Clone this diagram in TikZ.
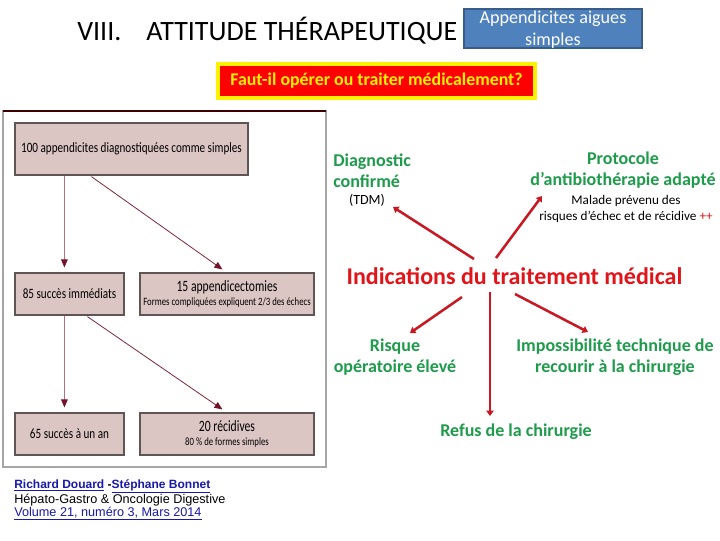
\documentclass[tikz,border=0pt]{standalone}
\usepackage{fontspec}
\usepackage{graphicx}
\setmainfont{Carlito}
\newfontfamily\tah{Liberation Sans}
\usetikzlibrary{arrows.meta,calc}
\definecolor{bluefill}{RGB}{79,129,189}
\definecolor{blueline}{RGB}{56,93,138}
\definecolor{grn}{RGB}{30,155,75}
\definecolor{redtxt}{RGB}{225,20,25}
\definecolor{redarr}{RGB}{200,25,35}
\definecolor{pbox}{RGB}{220,198,195}
\definecolor{pline}{RGB}{95,85,85}
\definecolor{thinarr}{RGB}{175,115,125}
\definecolor{thinhead}{RGB}{115,20,40}
\definecolor{citeblue}{RGB}{25,25,170}
\newdimen\px \px=0.75pt
\newcommand{\cnd}[1]{\scalebox{0.78}[1]{#1}}
\newcommand{\cndb}[1]{\scalebox{0.74}[1]{#1}}
\tikzset{
  pbx/.style={draw=pline, fill=pbox, line width=0.9pt, inner sep=0pt, align=center, font=\fontsize{10.7pt}{12pt}\selectfont},
  thin/.style={draw=thinarr, line width=0.6pt, -{Triangle[length=6pt,width=5pt,color=thinhead]}},
  thinb/.style={draw=thinhead!80!thinarr, line width=0.6pt, -{Triangle[length=6pt,width=5pt,color=thinhead]}},
  rarr/.style={draw=redarr, line width=1.9pt, -{Triangle[length=4pt,width=5.5pt]}},
  gtxt/.style={text=grn, font=\fontsize{13.5pt}{15.75pt}\selectfont\bfseries, align=center, inner sep=0pt},
  smtxt/.style={font=\fontsize{9.9pt}{12pt}\selectfont, align=center, inner sep=0pt},
  cite/.style={font=\tah\fontsize{9.5pt}{10pt}\selectfont, anchor=base west, inner sep=0pt}
}
\begin{document}
\begin{tikzpicture}[x=0.75pt,y=-0.75pt]
\useasboundingbox[fill=white] (0,0) rectangle (720,540);
% title
\node[anchor=base west, inner sep=0pt, font=\fontsize{21pt}{22pt}\selectfont] (t1) at (77,40) {VIII.};
\node[anchor=base west, inner sep=0pt, font=\fontsize{21pt}{22pt}\selectfont] (t2) at (146,40) {ATTITUDE THÉRAPEUTIQUE};
% blue box
\node[draw=blueline, fill=bluefill, line width=1.2pt, minimum width=178\px, minimum height=39\px, inner sep=0pt,
      text=white, align=center, font=\fontsize{13.6pt}{16.5pt}\selectfont] (blue) at (553,28.5) {};
\node[inner sep=0pt, text=white, align=center, font=\fontsize{13.6pt}{16.5pt}\selectfont] (bluetxt) at (blue.center) [yshift=-1.2pt] {Appendicites aigues\\simples};
% red box
\node[draw=yellow, fill=red, line width=2.6pt, minimum width=317\px, minimum height=34\px, inner sep=0pt,
      text=yellow, font=\fontsize{13.4pt}{15pt}\selectfont\bfseries] (q) at (376.5,81) {Faut-il opérer ou traiter médicalement?};
% panel
\draw[draw=black!35, line width=0.8pt] (3,111) rectangle (326,467);
\draw[draw=black!60!red!60!black, line width=1pt] (3,111) -- (326,111);
\node[pbx, minimum width=233\px, minimum height=52\px] (b1) at (131.5,149) {\cnd{100 appendicites diagnostiquées comme simples}};
\node[pbx, minimum width=109\px, minimum height=42\px] (b85) at (69.5,294) {\cnd{85 succès immédiats}};
\node[pbx, minimum width=174\px, minimum height=42\px] (b15) at (227,294) {\cndb{\fontsize{11.8pt}{12pt}\selectfont 15 appendicectomies}\\[-2pt]\cnd{\fontsize{8.4pt}{9pt}\selectfont Formes compliquées expliquent 2/3 des échecs}};
\node[pbx, minimum width=109\px, minimum height=42\px] (b65) at (69.5,434) {\cnd{65 succès à un an}};
\node[pbx, minimum width=174\px, minimum height=42\px] (b20) at (227,434) {\cndb{\fontsize{11.8pt}{12pt}\selectfont 20 récidives}\\[-2pt]\cnd{\fontsize{8.4pt}{9pt}\selectfont 80 \% de formes simples}};
\draw[thin] ($(b1.south west)+(50,0)$) -- ($(b85.north west)+(50,-5)$);
\draw[thinb] ($(b1.south west)+(77,1)$) -- ($(b15.north west)+(83,-3)$);
\draw[thin] ($(b85.south west)+(50,0)$) -- ($(b65.north west)+(50,-5)$);
\draw[thinb] ($(b85.south west)+(73,1)$) -- ($(b20.north west)+(83,-3)$);
% citation
\node[cite, text=citeblue, font=\tah\bfseries\fontsize{9pt}{10pt}\selectfont] (c1) at (14,488) {\underline{Richard Douard} \textcolor{black}{-}\underline{Stéphane Bonnet}};
\node[cite] (c2) at (14,503) {Hépato-Gastro \& Oncologie Digestive};
\node[cite, text=citeblue] (c3) at (14,516) {\underline{Volume 21, numéro 3, Mars 2014}};
% right side
\node[gtxt, align=left, anchor=west] (dg) at (333,170.5) {Diagnostic\\confirmé};
\node[smtxt, font=\fontsize{10.5pt}{12pt}\selectfont] (tdm) at (367,200) {(TDM)};
\node[gtxt] (prot) at (623,170.5) {Protocole\\d’antibiothérapie adapté};
\node[smtxt] (mal) at (626,209) {Malade prévenu des\\risques d’échec et de récidive \textcolor{redtxt}{++}};
\node[inner sep=0pt, text=redtxt, font=\fontsize{18pt}{20pt}\selectfont\bfseries] (ind) at (514.5,276) {Indications du traitement médical};
\node[gtxt] (risk) at (395,357.5) {Risque\\opératoire élevé};
\node[gtxt] (imp) at (615,357.5) {Impossibilité technique de\\recourir à la chirurgie};
\node[gtxt] (ref) at (516,432) {Refus de la chirurgie};
\coordinate (s1) at (474,259);
\coordinate (s2) at (496,258);
\coordinate (s3) at (462,297);
\coordinate (s4) at (490,292);
\coordinate (s5) at (515,294);
\coordinate (e1) at (393,207);
\coordinate (e2) at (542,196);
\coordinate (e3) at (410,333);
\coordinate (e4) at (490,416);
\coordinate (e5) at (588,332);
\draw[rarr] (s1) -- (e1);
\draw[rarr] (s2) -- (e2);
\draw[rarr] (s3) -- (e3);
\draw[rarr] (s4) -- (e4);
\draw[rarr] (s5) -- (e5);
\end{tikzpicture}
\end{document}
